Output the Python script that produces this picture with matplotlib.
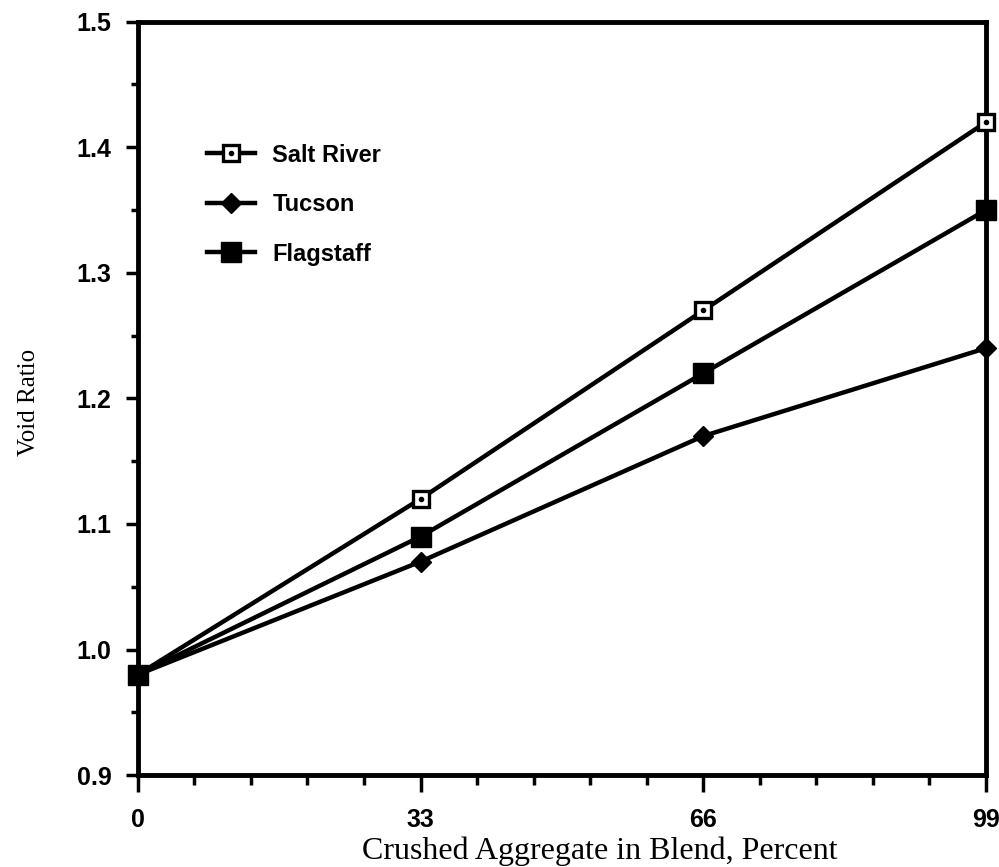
import matplotlib.pyplot as plt
from matplotlib.legend_handler import HandlerTuple
from matplotlib.ticker import MultipleLocator

# crushed aggregate content of the blend (%)
crushed = [0, 33, 66, 99]
salt_river = [0.98, 1.12, 1.27, 1.42]
tucson = [0.98, 1.07, 1.17, 1.24]
flagstaff = [0.98, 1.09, 1.22, 1.35]

fig = plt.figure(figsize=(9.99, 8.67), dpi=100)
ax = fig.add_axes([0.138, 0.106, 0.849, 0.869])

lw = 3.2
sr_line, = ax.plot(crushed, salt_river, color='black', lw=lw, marker='s',
                   markersize=12, mfc='white', mec='black', mew=2.4, clip_on=False, zorder=3)
sr_dot, = ax.plot(crushed, salt_river, ls='none', marker='o', markersize=3,
                  color='black', clip_on=False, zorder=4)
tu_line, = ax.plot(crushed, tucson, color='black', lw=lw, marker='D',
                   markersize=10, clip_on=False, zorder=3)
fl_line, = ax.plot(crushed, flagstaff, color='black', lw=lw, marker='s',
                   markersize=14, clip_on=False, zorder=3)

ax.set_xlim(0, 99)
ax.set_ylim(0.9, 1.5)
ax.set_xticks(crushed)
ax.xaxis.set_minor_locator(MultipleLocator(6.6))
ax.set_yticks([0.9, 1.0, 1.1, 1.2, 1.3, 1.4, 1.5])
ax.yaxis.set_minor_locator(MultipleLocator(0.05))

for side in ['left', 'right', 'top', 'bottom']:
    ax.spines[side].set_linewidth(3.5)

ax.tick_params(axis='x', which='major', direction='out', length=12, width=2.5, pad=12)
ax.tick_params(axis='x', which='minor', direction='out', length=7, width=2.5)
ax.tick_params(axis='y', which='major', direction='out', length=9, width=2.5, pad=10)
ax.tick_params(axis='y', which='minor', direction='out', length=5, width=2.5)

for lbl in ax.get_xticklabels() + ax.get_yticklabels():
    lbl.set_fontfamily('Liberation Sans')
    lbl.set_fontweight('bold')
    lbl.set_fontsize(18)

ax.set_xlabel('Crushed Aggregate in Blend, Percent', family='Liberation Serif', fontsize=23)
ax.xaxis.set_label_coords(0.545, -0.082)
ax.set_ylabel('Void Ratio', family='Liberation Serif', fontsize=18)
ax.yaxis.set_label_coords(-0.115, 0.495)

leg = ax.legend([(sr_line, sr_dot), tu_line, fl_line], ['Salt River', 'Tucson', 'Flagstaff'],
                handler_map={tuple: HandlerTuple(ndivide=1)},
                loc='upper left', bbox_to_anchor=(0.082, 0.838), frameon=False,
                borderpad=0, borderaxespad=0,
                handlelength=2.0, labelspacing=1.12, handletextpad=0.75,
                prop={'family': 'Liberation Sans', 'weight': 'bold', 'size': 17})

fig.savefig('out.png', dpi=100)
